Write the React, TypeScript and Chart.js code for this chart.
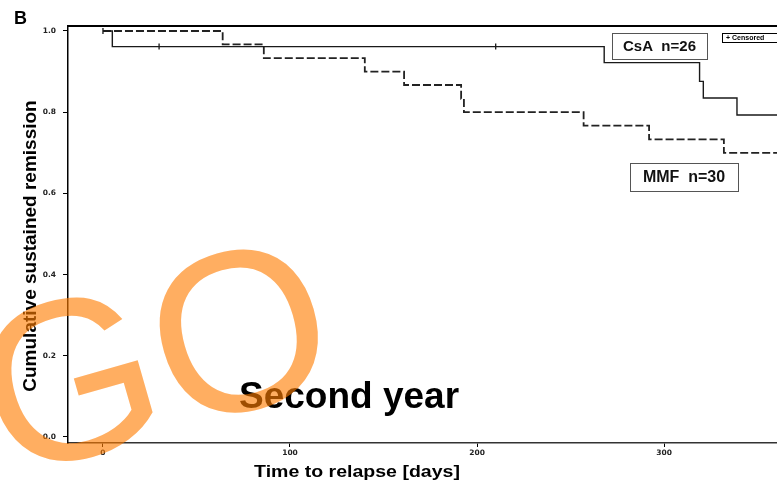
import React, { useEffect, useRef } from "react";
import { Chart, registerables } from "chart.js";

Chart.register(...registerables);

// ---- data ----
const csaDays = [0, 5, 268, 319, 321, 339, 370];
const csaSurv = [1.0, 0.9615, 0.922, 0.876, 0.835, 0.793, 0.793];
const mmfDays = [0, 64, 86, 140, 161, 191.5, 193, 257, 292, 332, 370];
const mmfSurv = [1.0, 0.967, 0.933, 0.9, 0.867, 0.833, 0.8, 0.767, 0.733, 0.7, 0.7];
const csaCensorDays = [30, 210];
const csaCensorSurv = [0.9615, 0.9615];
const mmfCensorDays = [0];
const mmfCensorSurv = [1.0];
const xTicks = [0, 100, 200, 300];
const yTicks = [0, 0.2, 0.4, 0.6, 0.8, 1.0];
const csaLabel = "CsA  n=26";
const mmfLabel = "MMF  n=30";
const censoredLabel = "+ Censored";
const xTitle = "Time to relapse [days]";
const yTitle = "Cumulative sustained remission";
const panelLetter = "B";
const overlayText = "Second year";
const watermark = "GO";

const SANS = '"Liberation Sans", Arial, sans-serif';

const decorPlugin = {
  id: "decor",
  afterDraw(chart: any) {
    const ctx = chart.ctx as CanvasRenderingContext2D;
    const a = chart.chartArea;
    ctx.save();
    // top frame line
    ctx.strokeStyle = "#000";
    ctx.lineWidth = 2;
    ctx.beginPath();
    ctx.moveTo(a.left, a.top);
    ctx.lineTo(a.right, a.top);
    ctx.stroke();

    // panel letter
    ctx.fillStyle = "#000";
    ctx.font = `bold 18px ${SANS}`;
    ctx.textAlign = "left";
    ctx.textBaseline = "alphabetic";
    ctx.fillText(panelLetter, 14, 24);

    // y title
    ctx.save();
    ctx.translate(31, 246);
    ctx.rotate(-Math.PI / 2);
    ctx.font = `bold 19px ${SANS}`;
    ctx.textAlign = "center";
    ctx.textBaseline = "middle";
    ctx.fillText(yTitle, 0, 0);
    ctx.restore();

    // x title
    ctx.save();
    ctx.translate(357, 473);
    ctx.scale(1.22, 1);
    ctx.font = `bold 16px ${SANS}`;
    ctx.textAlign = "center";
    ctx.textBaseline = "middle";
    ctx.fillText(xTitle, 0, 0);
    ctx.restore();

    // label boxes
    const box = (x: number, y: number, w: number, h: number, text: string, size: number, stroke: string) => {
      ctx.fillStyle = "#fff";
      ctx.fillRect(x, y, w, h);
      ctx.strokeStyle = stroke;
      ctx.lineWidth = 1;
      ctx.strokeRect(x + 0.5, y + 0.5, w, h);
      ctx.fillStyle = "#111";
      ctx.font = `bold ${size}px ${SANS}`;
      ctx.textAlign = "center";
      ctx.textBaseline = "middle";
      ctx.fillText(text, x + w / 2, y + h / 2 + 1);
    };
    box(612, 33, 95, 26, csaLabel, 15, "#555");
    box(630, 163, 108, 28, mmfLabel, 16, "#555");

    // censored legend
    ctx.fillStyle = "#fff";
    ctx.fillRect(722, 33, 70, 9);
    ctx.strokeStyle = "#000";
    ctx.strokeRect(722.5, 33.5, 70, 9);
    ctx.fillStyle = "#000";
    ctx.font = `bold 7px ${SANS}`;
    ctx.textAlign = "left";
    ctx.textBaseline = "middle";
    ctx.fillText(censoredLabel, 726, 38);

    // overlay text
    ctx.fillStyle = "#000";
    ctx.font = `bold 37px ${SANS}`;
    ctx.textAlign = "left";
    ctx.textBaseline = "alphabetic";
    ctx.fillText(overlayText, 239, 408);

    // watermark
    ctx.save();
    ctx.translate(153, 352);
    ctx.rotate((-16 * Math.PI) / 180);
    ctx.font = `228px ${SANS}`;
    ctx.fillStyle = "rgba(255,125,0,0.62)";
    ctx.textAlign = "center";
    ctx.textBaseline = "alphabetic";
    ctx.fillText(watermark, 0, 0.36 * 228);
    ctx.restore();

    ctx.restore();
  },
};

export default function App() {
  const ref = useRef<HTMLCanvasElement | null>(null);
  useEffect(() => {
    document.body.style.margin = "0";
    const canvas = ref.current!;
    const chart = new Chart(canvas, {
      type: "line",
      data: {
        datasets: [
          {
            label: "CsA",
            data: csaDays.map((d, i) => ({ x: d, y: csaSurv[i] })),
            borderColor: "#1a1a1a",
            borderWidth: 1.4,
            stepped: true,
            pointRadius: 0,
            pointHoverRadius: 0,
            fill: false,
          },
          {
            label: "MMF",
            data: mmfDays.map((d, i) => ({ x: d, y: mmfSurv[i] })),
            borderColor: "#222",
            borderWidth: 1.8,
            borderDash: [8, 3],
            stepped: true,
            pointRadius: 0,
            pointHoverRadius: 0,
            fill: false,
          },
          {
            type: "scatter",
            label: "CsA censored",
            data: csaCensorDays.map((d, i) => ({ x: d, y: csaCensorSurv[i] })),
            showLine: false,
            pointStyle: "line",
            rotation: 90,
            pointRadius: 3,
            borderColor: "#000",
            borderWidth: 1.2,
          } as any,
          {
            type: "scatter",
            label: "MMF censored",
            data: mmfCensorDays.map((d, i) => ({ x: d, y: mmfCensorSurv[i] })),
            showLine: false,
            pointStyle: "line",
            rotation: 90,
            pointRadius: 3,
            borderColor: "#000",
            borderWidth: 1.2,
          } as any,
        ],
      },
      options: {
        responsive: false,
        animation: false,
        layout: { autoPadding: false, padding: { top: 26, left: 0, right: 0, bottom: 0 } },
        plugins: { legend: { display: false }, tooltip: { enabled: false } },
        scales: {
          x: {
            type: "linear",
            min: -18.7,
            max: 360.4,
            afterFit: (s: any) => {
              s.height = 39;
              s.paddingRight = 0;
              s.paddingLeft = 0;
            },
            afterBuildTicks: (s: any) => {
              s.ticks = xTicks.map((v) => ({ value: v }));
            },
            grid: { display: true, drawOnChartArea: false, drawTicks: true, tickLength: 4, color: "#000" },
            border: { display: true, color: "#333", width: 1.5 },
            ticks: {
              font: { family: "DejaVu Sans", size: 7.5, weight: "bold" },
              color: "#222",
              padding: 2,
              callback: (v: any) => String(v),
            },
          },
          y: {
            type: "linear",
            min: -0.0148,
            max: 1.0123,
            afterFit: (s: any) => {
              s.width = 68;
            },
            afterBuildTicks: (s: any) => {
              s.ticks = yTicks.map((v) => ({ value: v }));
            },
            grid: { display: true, drawOnChartArea: false, drawTicks: true, tickLength: 5, color: "#000" },
            border: { display: true, color: "#000", width: 1.5 },
            ticks: {
              font: { family: "DejaVu Sans", size: 7.5, weight: "bold" },
              color: "#222",
              padding: 7,
              callback: (v: any) => Number(v).toFixed(1),
            },
          },
        },
      },
      plugins: [decorPlugin],
    } as any);
    return () => chart.destroy();
  }, []);
  return (
    <div style={{ position: "absolute", left: 0, top: 0, width: 777, height: 482, overflow: "hidden", background: "#fff" }}>
      <canvas ref={ref} width={777} height={482} />
    </div>
  );
}
